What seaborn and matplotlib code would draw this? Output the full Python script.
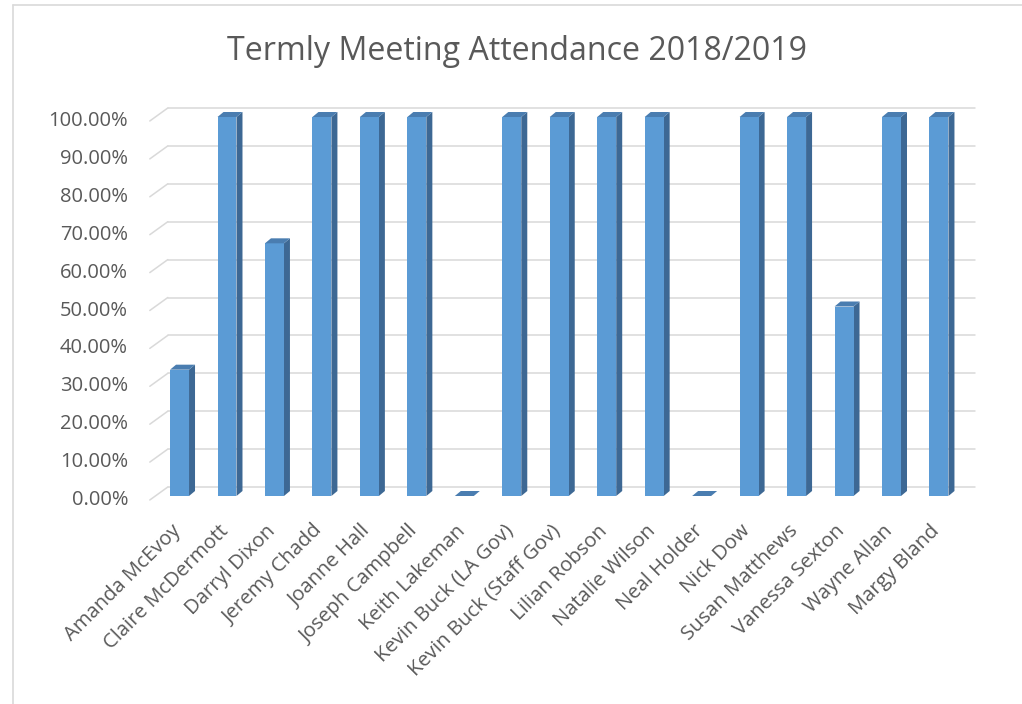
import pandas as pd
import matplotlib
matplotlib.use('Agg')
import matplotlib.pyplot as plt
from matplotlib.patches import Polygon
from matplotlib.lines import Line2D
from matplotlib.transforms import offset_copy
import seaborn as sns

# attendance per governor
names = ["Amanda McEvoy", "Claire McDermott", "Darryl Dixon", "Jeremy Chadd",
         "Joanne Hall", "Joseph Campbell", "Keith Lakeman", "Kevin Buck (LA Gov)",
         "Kevin Buck (Staff Gov)", "Lilian Robson", "Natalie Wilson", "Neal Holder",
         "Nick Dow", "Susan Matthews", "Vanessa Sexton", "Wayne Allan", "Margy Bland"]
attendance = [33.33, 100, 66.67, 100, 100, 100, 0, 100, 100, 100, 100, 0,
              100, 100, 50, 100, 100]
y_ticks = [0, 10, 20, 30, 40, 50, 60, 70, 80, 90, 100]
y_tick_labels = ["%.2f%%" % v for v in y_ticks]

df = pd.DataFrame({"name": names, "attendance": attendance})

sns.set_style("white")
plt.rcParams['font.family'] = ['Open Sans', 'DejaVu Sans']

text_col = '#595959'
grid_col = '#d9d9d9'
front_col = '#5b9bd5'
side_col = '#3d6894'
top_col = '#4a7db0'

fig = plt.figure(figsize=(10.22, 7.04), dpi=100)
ax = fig.add_axes([155.8 / 1022, 208 / 704, 806.9 / 1022, 379 / 704])

sns.barplot(data=df, x="name", y="attendance", color=front_col, width=0.4,
            saturation=1, ax=ax, zorder=3, linewidth=0)

ax.set_xlim(-0.5, 16.5)
ax.set_ylim(0, 100)
for s in ax.spines.values():
    s.set_visible(False)

# pseudo 3d offsets (data units)
px_x = 806.9 / 17
px_y = 379 / 100
back_dx, back_dy = 12 / px_x, 9 / px_y
front_dx, front_dy = -6 / px_x, -4 / px_y
bar_dx, bar_dy = 6 / px_x, 5 / px_y

# back wall grid and side wall floor lines
x0, x1 = ax.get_xlim()
for v in y_ticks:
    ax.plot([x0 + back_dx, x1 + back_dx], [v + back_dy, v + back_dy],
            color=grid_col, lw=1.1, zorder=1, clip_on=False)
    ax.plot([x0 + front_dx, x0 + back_dx], [v + front_dy, v + back_dy],
            color=grid_col, lw=1.1, zorder=1, clip_on=False)

# side and top faces of each bar
for p in list(ax.patches):
    bx, bw, bh = p.get_x(), p.get_width(), p.get_height()
    side = Polygon([(bx + bw, 0), (bx + bw + bar_dx, bar_dy),
                    (bx + bw + bar_dx, bh + bar_dy), (bx + bw, bh)],
                   closed=True, color=side_col, lw=0, zorder=2, clip_on=False)
    top = Polygon([(bx, bh), (bx + bw, bh), (bx + bw + bar_dx, bh + bar_dy),
                   (bx + bar_dx, bh + bar_dy)],
                  closed=True, color=top_col, lw=0, zorder=4, clip_on=False)
    ax.add_patch(side)
    ax.add_patch(top)

# y labels on front plane
ax.set_yticks([])
for v, lab in zip(y_ticks, y_tick_labels):
    ax.text(x0 - 27.8 / px_x, v + front_dy, lab, ha='right', va='center',
            fontsize=14.5, color=text_col)

# category labels, rotated
ax.set_xlabel("")
ax.set_ylabel("")
ax.set_xticks([])
lab_tr = offset_copy(ax.transData, fig, x=-9, y=-25, units='dots')
for i, n in enumerate(names):
    ax.text(i, 0, n, transform=lab_tr, rotation=45, ha='right', va='top',
            rotation_mode='anchor', fontsize=14.6, color=text_col, clip_on=False)

fig.text(517 / 1022, 1 - 51 / 704, "Termly Meeting Attendance 2018/2019",
         ha='center', va='center', fontsize=23.1, color=text_col)

# chart border
fig.add_artist(Line2D([13 / 1022, 13 / 1022], [0, 1 - 5 / 704], color=grid_col, lw=1.2))
fig.add_artist(Line2D([13 / 1022, 1], [1 - 5 / 704, 1 - 5 / 704], color=grid_col, lw=1.2))

fig.savefig("out.png", dpi=100)
